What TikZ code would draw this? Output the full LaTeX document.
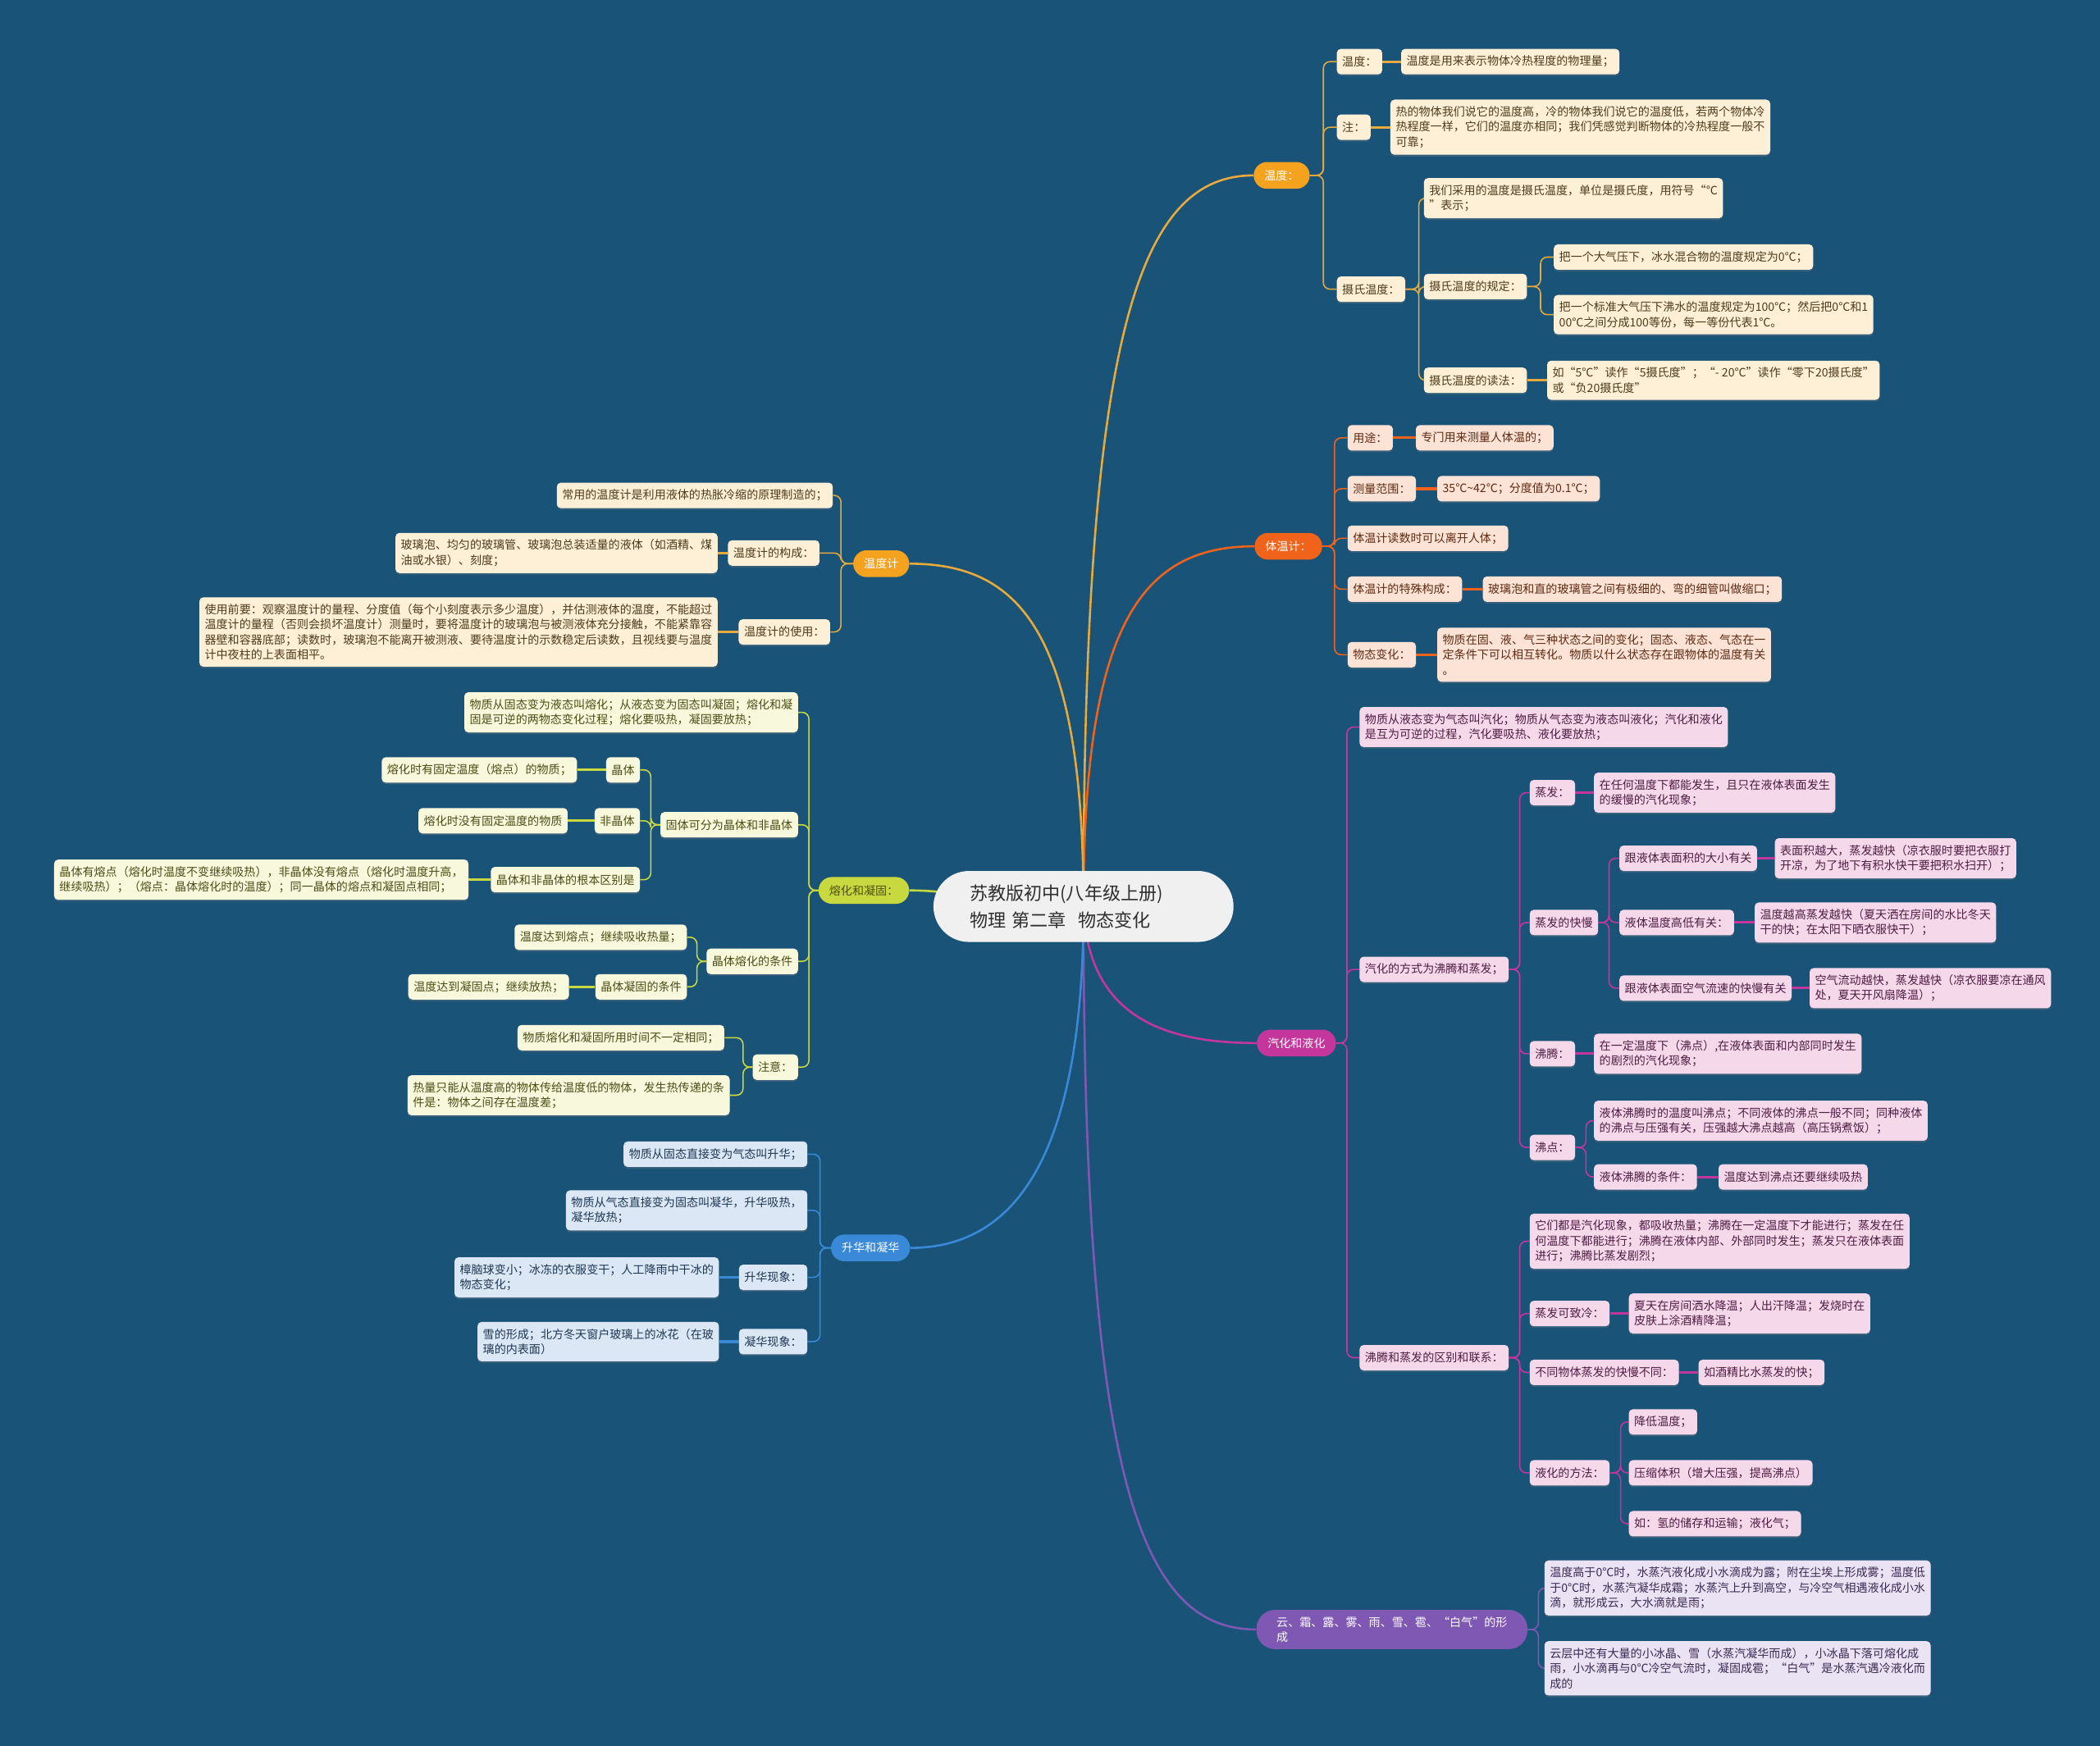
\documentclass[tikz,border=0pt]{standalone}
\usepackage{fontspec}
\usepackage{xcolor}
\usepackage{tikz}
\usetikzlibrary{positioning,backgrounds,shadows}
\newfontfamily\cjkfont{Noto Sans CJK SC}
\definecolor{sea}{HTML}{1A5378}
\definecolor{cloud}{HTML}{F0F0F0}
\definecolor{ink}{HTML}{2E2E2E}
\definecolor{amber}{HTML}{F5A21E}
\definecolor{gold}{HTML}{E8AA3C}
\definecolor{cream}{HTML}{FDF0D6}
\definecolor{umber}{HTML}{4E3A1C}
\definecolor{flame}{HTML}{F1621B}
\definecolor{peach}{HTML}{FDE3D5}
\definecolor{rust}{HTML}{5C2A14}
\definecolor{berry}{HTML}{C4369C}
\definecolor{blush}{HTML}{F6D8EB}
\definecolor{plum}{HTML}{4C1D42}
\definecolor{grape}{HTML}{7E58B3}
\definecolor{lilac}{HTML}{EAE3F3}
\definecolor{aubergine}{HTML}{3A2A52}
\definecolor{limeg}{HTML}{C8D93F}
\definecolor{ivory}{HTML}{F8F8DD}
\definecolor{moss}{HTML}{4A4E14}
\definecolor{azure}{HTML}{3A89D8}
\definecolor{frost}{HTML}{DBE7F4}
\definecolor{deepblue}{HTML}{1E3653}
\newcommand{\leaffont}{\cjkfont\fontsize{9.8pt}{12.8pt}\selectfont}
\newcommand{\rootfont}{\cjkfont\fontsize{15.4pt}{23pt}\selectfont}
\tikzset{
  rootbox/.style={
    rectangle, rounded corners=1.06cm, fill=cloud, text=ink,
    minimum width=8.96cm, minimum height=2.12cm, text width=6.8cm,
    inner xsep=1.08cm, align=left, font=\rootfont
  },
  topic/.style={
    rectangle, rounded corners=0.4cm, fill=#1, text=white,
    minimum height=0.8cm, inner xsep=0.32cm, inner ysep=0.2cm,
    font=\leaffont, align=left
  },
  leaf/.style={
    rectangle, rounded corners=0.12cm, minimum height=0.76cm,
    inner xsep=0.16cm, inner ysep=0.2cm, align=left, font=\leaffont,
    drop shadow={shadow xshift=0pt, shadow yshift=-0.05cm, opacity=0.3}
  },
  amberleaf/.style={leaf, fill=cream, text=umber},
  flameleaf/.style={leaf, fill=peach, text=rust},
  berryleaf/.style={leaf, fill=blush, text=plum},
  grapeleaf/.style={leaf, fill=lilac, text=aubergine},
  limeleaf/.style={leaf, fill=ivory, text=moss},
  azureleaf/.style={leaf, fill=frost, text=deepblue},
  spoke/.style={line width=1.8pt, draw=#1},
  link/.style={line width=1.1pt, draw=#1, rounded corners=0.2cm},
  stub/.style={line width=2.2pt, draw=#1},
}

\begin{document}
\begin{tikzpicture}[x=0.04cm, y=-0.04cm]
\begin{pgfonlayer}{background}
\fill[sea] (0,0) rectangle (1568,1304);
\end{pgfonlayer}
\useasboundingbox (0,0) rectangle (1568,1304);

% centre
\node[rootbox] (root) at (809,677) {苏教版初中(八年级上册)\\物理 第二章\ \ 物态变化};

% 温度
\node[topic=amber] (wendu) at (957,131) {温度：};
\node[amberleaf, anchor=west] (wdDef) at (998,46) {温度：};
\node[amberleaf, anchor=west] (wdDefV) at (1046,46) {温度是用来表示物体冷热程度的物理量；};
\node[amberleaf, anchor=west] (wdNote) at (998,95) {注：};
\node[amberleaf, anchor=west] (wdNoteV) at (1038,95) {热的物体我们说它的温度高，冷的物体我们说它的温度低，若两个物体冷\\热程度一样，它们的温度亦相同；我们凭感觉判断物体的冷热程度一般不\\可靠；};
\node[amberleaf, anchor=west] (wdCel) at (998,216) {摄氏温度：};
\node[amberleaf, anchor=west] (wdUnit) at (1063,148) {我们采用的温度是摄氏温度，单位是摄氏度，用符号“℃\\”表示；};
\node[amberleaf, anchor=west] (wdRule) at (1063,214) {摄氏温度的规定：};
\node[amberleaf, anchor=west] (wdZero) at (1160,192) {把一个大气压下，冰水混合物的温度规定为0℃；};
\node[amberleaf, anchor=west] (wdHund) at (1160,235) {把一个标准大气压下沸水的温度规定为100℃；然后把0℃和1\\00℃之间分成100等份，每一等份代表1℃。};
\node[amberleaf, anchor=west] (wdRead) at (1063,284) {摄氏温度的读法：};
\node[amberleaf, anchor=west] (wdReadV) at (1155,284) {如“5℃”读作“5摄氏度”；“- 20℃”读作“零下20摄氏度”\\或“负20摄氏度”};

% 体温计
\node[topic=flame] (tiwen) at (962,408) {体温计：};
\node[flameleaf, anchor=west] (twUse) at (1006,327) {用途：};
\node[flameleaf, anchor=west] (twUseV) at (1057,327) {专门用来测量人体温的；};
\node[flameleaf, anchor=west] (twRange) at (1006,365) {测量范围：};
\node[flameleaf, anchor=west] (twRangeV) at (1073,365) {35℃\textasciitilde42℃；分度值为0.1℃；};
\node[flameleaf, anchor=west] (twLeave) at (1006,402) {体温计读数时可以离开人体；};
\node[flameleaf, anchor=west] (twNeck) at (1006,440) {体温计的特殊构成：};
\node[flameleaf, anchor=west] (twNeckV) at (1107,440) {玻璃泡和直的玻璃管之间有极细的、弯的细管叫做缩口；};
\node[flameleaf, anchor=west] (twState) at (1006,489) {物态变化：};
\node[flameleaf, anchor=west] (twStateV) at (1073,489) {物质在固、液、气三种状态之间的变化；固态、液态、气态在一\\定条件下可以相互转化。物质以什么状态存在跟物体的温度有关\\。};

% 汽化和液化
\node[topic=berry] (qihua) at (968,779) {汽化和液化};
\node[berryleaf, anchor=west] (qhDef) at (1015,543) {物质从液态变为气态叫汽化；物质从气态变为液态叫液化；汽化和液化\\是互为可逆的过程，汽化要吸热、液化要放热；};
\node[berryleaf, anchor=west] (qhWay) at (1015,724) {汽化的方式为沸腾和蒸发；};
\node[berryleaf, anchor=west] (qhEvap) at (1142,592) {蒸发：};
\node[berryleaf, anchor=west] (qhEvapV) at (1190,592) {在任何温度下都能发生，且只在液体表面发生\\的缓慢的汽化现象；};
\node[berryleaf, anchor=west] (qhRate) at (1142,689) {蒸发的快慢};
\node[berryleaf, anchor=west] (qhArea) at (1209,641) {跟液体表面积的大小有关};
\node[berryleaf, anchor=west] (qhAreaV) at (1325,641) {表面积越大，蒸发越快（凉衣服时要把衣服打\\开凉，为了地下有积水快干要把积水扫开）；};
\node[berryleaf, anchor=west] (qhTemp) at (1209,689) {液体温度高低有关：};
\node[berryleaf, anchor=west] (qhTempV) at (1310,689) {温度越高蒸发越快（夏天洒在房间的水比冬天\\干的快；在太阳下晒衣服快干）；};
\node[berryleaf, anchor=west] (qhAir) at (1209,738) {跟液体表面空气流速的快慢有关};
\node[berryleaf, anchor=west] (qhAirV) at (1351,738) {空气流动越快，蒸发越快（凉衣服要凉在通风\\处，夏天开风扇降温）；};
\node[berryleaf, anchor=west] (qhBoil) at (1142,787) {沸腾：};
\node[berryleaf, anchor=west] (qhBoilV) at (1190,787) {在一定温度下（沸点）,在液体表面和内部同时发生\\的剧烈的汽化现象；};
\node[berryleaf, anchor=west] (qhPoint) at (1142,857) {沸点：};
\node[berryleaf, anchor=west] (qhPointV) at (1190,837) {液体沸腾时的温度叫沸点；不同液体的沸点一般不同；同种液体\\的沸点与压强有关，压强越大沸点越高（高压锅煮饭）；};
\node[berryleaf, anchor=west] (qhCond) at (1190,879) {液体沸腾的条件：};
\node[berryleaf, anchor=west] (qhCondV) at (1283,879) {温度达到沸点还要继续吸热};
\node[berryleaf, anchor=west] (qhDiff) at (1015,1014) {沸腾和蒸发的区别和联系：};
\node[berryleaf, anchor=west] (qhBoth) at (1142,927) {它们都是汽化现象，都吸收热量；沸腾在一定温度下才能进行；蒸发在任\\何温度下都能进行；沸腾在液体内部、外部同时发生；蒸发只在液体表面\\进行；沸腾比蒸发剧烈；};
\node[berryleaf, anchor=west] (qhCool) at (1142,981) {蒸发可致冷：};
\node[berryleaf, anchor=west] (qhCoolV) at (1216,981) {夏天在房间洒水降温；人出汗降温；发烧时在\\皮肤上涂酒精降温；};
\node[berryleaf, anchor=west] (qhKind) at (1142,1025) {不同物体蒸发的快慢不同：};
\node[berryleaf, anchor=west] (qhKindV) at (1268,1025) {如酒精比水蒸发的快；};
\node[berryleaf, anchor=west] (qhLiq) at (1142,1100) {液化的方法：};
\node[berryleaf, anchor=west] (qhCold) at (1216,1062) {降低温度；};
\node[berryleaf, anchor=west] (qhPress) at (1216,1100) {压缩体积（增大压强，提高沸点）};
\node[berryleaf, anchor=west] (qhGas) at (1216,1138) {如：氢的储存和运输；液化气；};

% 云、霜……
\node[topic=grape, rounded corners=0.55cm, inner xsep=0.6cm, anchor=west] (yun) at (938,1217) {云、霜、露、雾、雨、雪、雹、“白气”的形\\成};
\node[grapeleaf, anchor=west] (yunDew) at (1153,1186) {温度高于0℃时，水蒸汽液化成小水滴成为露；附在尘埃上形成雾；温度低\\于0℃时，水蒸汽凝华成霜；水蒸汽上升到高空，与冷空气相遇液化成小水\\滴，就形成云，大水滴就是雨；};
\node[grapeleaf, anchor=west] (yunHail) at (1153,1246) {云层中还有大量的小冰晶、雪（水蒸汽凝华而成），小冰晶下落可熔化成\\雨，小水滴再与0℃冷空气流时，凝固成雹；“白气”是水蒸汽遇冷液化而\\成的};

% 温度计
\node[topic=amber] (wdj) at (658,421) {温度计};
\node[amberleaf, anchor=east] (wdjPrin) at (622,370) {常用的温度计是利用液体的热胀冷缩的原理制造的；};
\node[amberleaf, anchor=east] (wdjPart) at (612,413) {温度计的构成：};
\node[amberleaf, anchor=east] (wdjPartV) at (536,413) {玻璃泡、均匀的玻璃管、玻璃泡总装适量的液体（如酒精、煤\\油或水银）、刻度；};
\node[amberleaf, anchor=east] (wdjUse) at (620,472) {温度计的使用：};
\node[amberleaf, anchor=east] (wdjUseV) at (536,472) {使用前要：观察温度计的量程、分度值（每个小刻度表示多少温度），并估测液体的温度，不能超过\\温度计的量程（否则会损坏温度计）测量时，要将温度计的玻璃泡与被测液体充分接触，不能紧靠容\\器壁和容器底部；读数时，玻璃泡不能离开被测液、要待温度计的示数稳定后读数，且视线要与温度\\计中夜柱的上表面相平。};

% 熔化和凝固
\node[topic=limeg, text=moss] (ronghua) at (645,665) {熔化和凝固：};
\node[limeleaf, anchor=east] (rhDef) at (596,532) {物质从固态变为液态叫熔化；从液态变为固态叫凝固；熔化和凝\\固是可逆的两物态变化过程；熔化要吸热，凝固要放热；};
\node[limeleaf, anchor=east] (rhSolid) at (596,616) {固体可分为晶体和非晶体};
\node[limeleaf, anchor=east] (rhCrys) at (478,575) {晶体};
\node[limeleaf, anchor=east] (rhCrysV) at (431,575) {熔化时有固定温度（熔点）的物质；};
\node[limeleaf, anchor=east] (rhAmor) at (478,613) {非晶体};
\node[limeleaf, anchor=east] (rhAmorV) at (424,613) {熔化时没有固定温度的物质};
\node[limeleaf, anchor=east] (rhKey) at (478,657) {晶体和非晶体的根本区别是};
\node[limeleaf, anchor=east] (rhKeyV) at (350,657) {晶体有熔点（熔化时温度不变继续吸热），非晶体没有熔点（熔化时温度升高，\\继续吸热）；（熔点：晶体熔化时的温度）；同一晶体的熔点和凝固点相同；};
\node[limeleaf, anchor=east] (rhMelt) at (596,718) {晶体熔化的条件};
\node[limeleaf, anchor=east] (rhMeltV) at (513,700) {温度达到熔点；继续吸收热量；};
\node[limeleaf, anchor=east] (rhFreeze) at (513,737) {晶体凝固的条件};
\node[limeleaf, anchor=east] (rhFreezeV) at (425,737) {温度达到凝固点；继续放热；};
\node[limeleaf, anchor=east] (rhMind) at (596,797) {注意：};
\node[limeleaf, anchor=east] (rhTime) at (541,775) {物质熔化和凝固所用时间不一定相同；};
\node[limeleaf, anchor=east] (rhHeat) at (545,818) {热量只能从温度高的物体传给温度低的物体，发生热传递的条\\件是：物体之间存在温度差；};

% 升华和凝华
\node[topic=azure] (shenghua) at (650,932) {升华和凝华};
\node[azureleaf, anchor=east] (shSub) at (603,862) {物质从固态直接变为气态叫升华；};
\node[azureleaf, anchor=east] (shDep) at (603,904) {物质从气态直接变为固态叫凝华，升华吸热，\\凝华放热；};
\node[azureleaf, anchor=east] (shSubEx) at (603,954) {升华现象：};
\node[azureleaf, anchor=east] (shSubExV) at (537,954) {樟脑球变小；冰冻的衣服变干；人工降雨中干冰的\\物态变化；};
\node[azureleaf, anchor=east] (shDepEx) at (603,1002) {凝华现象：};
\node[azureleaf, anchor=east] (shDepExV) at (537,1002) {雪的形成；北方冬天窗户玻璃上的冰花（在玻\\璃的内表面）};

\begin{pgfonlayer}{background}
% spokes from the centre
\draw[spoke=gold] (root.center) .. controls (809,250) and (850,131) .. (wendu.west);
\draw[spoke=flame] (root.center) .. controls (809,470) and (850,408) .. (tiwen.west);
\draw[spoke=berry] (root.center) .. controls (812,760) and (870,779) .. (qihua.west);
\draw[spoke=grape] (root.center) .. controls (809,1100) and (850,1217) .. (yun.west);
\draw[spoke=gold] (root.center) .. controls (809,470) and (760,421) .. (wdj.east);
\draw[spoke=limeg] (root.center) .. controls (760,677) and (720,665) .. (ronghua.east);
\draw[spoke=azure] (root.center) .. controls (809,860) and (760,932) .. (shenghua.east);
% right side: branching links
\foreach \p/\c in {wendu/wdDef, wendu/wdNote, wendu/wdCel, wdCel/wdUnit, wdCel/wdRule,
    wdCel/wdRead, wdRule/wdZero, wdRule/wdHund}
  \draw[link=gold] (\p.east) -- ++(10,0) |- (\c.west);
\foreach \c in {twUse, twRange, twLeave, twNeck, twState}
  \draw[link=flame] (tiwen.east) -- ++(9,0) |- (\c.west);
\foreach \p/\c in {qihua/qhDef, qihua/qhWay, qihua/qhDiff, qhWay/qhEvap, qhWay/qhRate,
    qhWay/qhBoil, qhWay/qhPoint, qhRate/qhArea, qhRate/qhTemp, qhRate/qhAir,
    qhPoint/qhPointV, qhPoint/qhCond, qhDiff/qhBoth, qhDiff/qhCool, qhDiff/qhKind,
    qhDiff/qhLiq, qhLiq/qhCold, qhLiq/qhPress, qhLiq/qhGas}
  \draw[link=berry] (\p.east) -- ++(8,0) |- (\c.west);
\foreach \c in {yunDew, yunHail}
  \draw[link=grape] (yun.east) -- ++(8,0) |- (\c.west);
% right side: single links
\foreach \p/\c in {wdDef/wdDefV, wdNote/wdNoteV, wdRead/wdReadV}
  \draw[stub=gold] (\p.east) -- (\c.west);
\foreach \p/\c in {twUse/twUseV, twRange/twRangeV, twNeck/twNeckV, twState/twStateV}
  \draw[stub=flame] (\p.east) -- (\c.west);
\foreach \p/\c in {qhEvap/qhEvapV, qhArea/qhAreaV, qhTemp/qhTempV, qhAir/qhAirV,
    qhBoil/qhBoilV, qhCond/qhCondV, qhCool/qhCoolV, qhKind/qhKindV}
  \draw[stub=berry] (\p.east) -- (\c.west);
% left side: branching links
\foreach \c in {wdjPrin, wdjPart, wdjUse}
  \draw[link=gold] (wdj.west) -- ++(-9,0) |- (\c.east);
\foreach \p/\c in {ronghua/rhDef, ronghua/rhSolid, ronghua/rhMelt, ronghua/rhMind,
    rhSolid/rhCrys, rhSolid/rhAmor, rhSolid/rhKey, rhMelt/rhMeltV, rhMelt/rhFreeze,
    rhMind/rhTime, rhMind/rhHeat}
  \draw[link=limeg] (\p.west) -- ++(-7,0) |- (\c.east);
\foreach \c in {shSub, shDep, shSubEx, shDepEx}
  \draw[link=azure] (shenghua.west) -- ++(-8,0) |- (\c.east);
% left side: single links
\foreach \p/\c in {wdjPart/wdjPartV, wdjUse/wdjUseV}
  \draw[stub=gold] (\p.west) -- (\c.east);
\foreach \p/\c in {rhCrys/rhCrysV, rhAmor/rhAmorV, rhKey/rhKeyV, rhFreeze/rhFreezeV}
  \draw[stub=limeg] (\p.west) -- (\c.east);
\foreach \p/\c in {shSubEx/shSubExV, shDepEx/shDepExV}
  \draw[stub=azure] (\p.west) -- (\c.east);
\end{pgfonlayer}
\end{tikzpicture}
\end{document}
